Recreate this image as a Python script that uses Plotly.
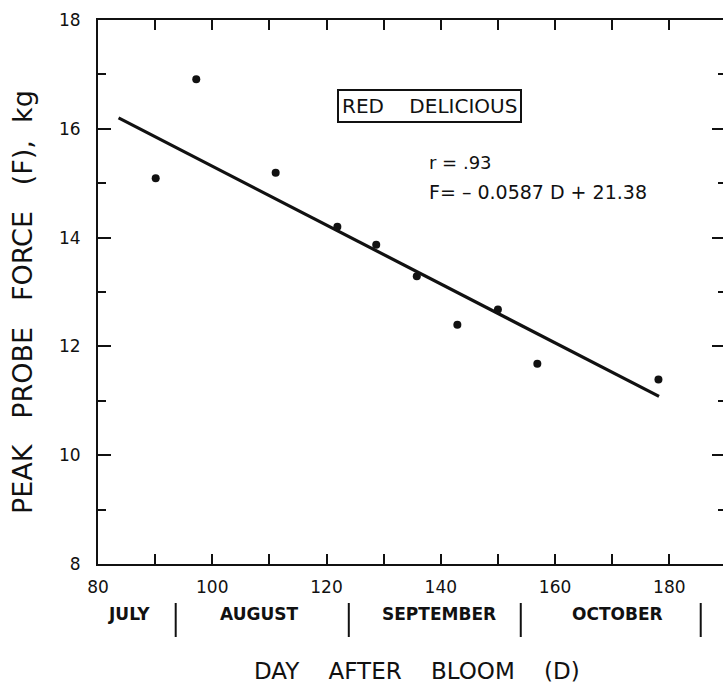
import plotly.graph_objects as go

# ---- data ----
day_after_bloom = [90.1, 97.2, 111.1, 121.9, 128.7, 135.8, 142.9, 150.0, 156.9, 178.1]
peak_force = [15.09, 16.91, 15.19, 14.20, 13.87, 13.29, 12.40, 12.68, 11.68, 11.39]

fit_days = [83.6, 178.2]
fit_force = [16.20, 11.08]

x_ticks = [80, 100, 120, 140, 160, 180]
y_ticks = [8, 10, 12, 14, 16, 18]

month_names = ["JULY", "AUGUST", "SEPTEMBER", "OCTOBER"]
month_centers = [85.4, 108.2, 139.7, 171.0]
month_bounds = [93.6, 123.9, 154.0, 185.5]

NB = "\u00a0"
cultivar = "RED" + NB * 4 + "DELICIOUS"
r_text = "r = .93"
eq_text = "F= \u2013 0.0587 D + 21.38"
x_title = "DAY" + NB * 4 + "AFTER" + NB * 4 + "BLOOM" + NB * 4 + "(D)"
y_title = "PEAK" + NB * 3 + "PROBE" + NB * 3 + "FORCE" + NB * 3 + "(F)," + NB * 2 + "kg"

# ---- layout geometry (pixels) ----
W, H = 723, 684
ML, MR, MT, MB = 98, 0, 20, 120
PW, PH = W - ML - MR, H - MT - MB

def px(x):
    return (x - ML) / PW

def py(y):
    return (H - MB - y) / PH

FONT = "DejaVu Sans"
INK = "#111111"

fig = go.Figure()

fig.add_trace(go.Scatter(
    x=fit_days, y=fit_force, mode="lines",
    line=dict(color=INK, width=3.2), showlegend=False, hoverinfo="skip"))

fig.add_trace(go.Scatter(
    x=day_after_bloom, y=peak_force, mode="markers",
    marker=dict(color=INK, size=8), showlegend=False))

# invisible trace so the right-hand tick axis renders
fig.add_trace(go.Scatter(
    x=[x_ticks[0]], y=[y_ticks[0]], yaxis="y2", mode="markers",
    marker=dict(opacity=0), showlegend=False, hoverinfo="skip"))

axis_font = dict(family=FONT, size=17, color=INK)

fig.update_layout(
    width=W, height=H,
    margin=dict(l=ML, r=MR, t=MT, b=MB, pad=0),
    paper_bgcolor="white", plot_bgcolor="white",
    xaxis=dict(
        range=[80, 80 + (PW) / 5.713], tickvals=x_ticks,
        ticks="inside", ticklen=10, tickwidth=2, tickcolor=INK,
        minor=dict(dtick=10, tick0=80, ticks="inside", ticklen=7, tickwidth=2, tickcolor=INK),
        showline=True, linewidth=2, linecolor=INK, mirror="allticks",
        showgrid=False, zeroline=False, tickfont=axis_font, ticklabelstandoff=7),
    yaxis=dict(
        range=[8, 18], tickvals=y_ticks,
        ticks="inside", ticklen=13, tickwidth=2, tickcolor=INK,
        minor=dict(dtick=1, tick0=8, ticks="inside", ticklen=8, tickwidth=2, tickcolor=INK),
        showline=True, linewidth=2, linecolor=INK, mirror=False,
        showgrid=False, zeroline=False, tickfont=axis_font, ticklabelstandoff=12),
    yaxis2=dict(
        range=[8, 18], tickvals=y_ticks, overlaying="y", side="right",
        ticks="inside", ticklen=11, tickwidth=2, tickcolor=INK,
        minor=dict(dtick=1, tick0=8, ticks="inside", ticklen=5, tickwidth=2, tickcolor=INK),
        showline=False, showticklabels=False, showgrid=False, zeroline=False),
)

annotations = []
# month labels and separators
for name, c in zip(month_names, month_centers):
    annotations.append(dict(
        x=c, y=py(614), xref="x", yref="paper", text="<b>%s</b>" % name,
        showarrow=False, font=dict(family=FONT, size=17, color=INK),
        xanchor="center", yanchor="middle"))
shapes = []
for b in month_bounds:
    shapes.append(dict(type="line", xref="x", yref="paper",
                       x0=b, x1=b, y0=py(603), y1=py(637),
                       line=dict(color=INK, width=2)))

# axis titles
annotations.append(dict(
    x=px(417), y=py(671), xref="paper", yref="paper", text=x_title,
    showarrow=False, font=dict(family=FONT, size=23, color=INK),
    xanchor="center", yanchor="middle"))
annotations.append(dict(
    x=px(23), y=py(302), xref="paper", yref="paper", text=y_title,
    textangle=-90, showarrow=False, font=dict(family=FONT, size=27, color=INK),
    xanchor="center", yanchor="middle"))

# boxed cultivar label
annotations.append(dict(
    x=px(429), y=py(106), xref="paper", yref="paper", text=cultivar,
    showarrow=False, font=dict(family=FONT, size=20, color=INK),
    xanchor="center", yanchor="middle",
    bordercolor=INK, borderwidth=2, borderpad=3, bgcolor="white"))

# statistics text
annotations.append(dict(
    x=px(427), y=py(163), xref="paper", yref="paper", text=r_text,
    showarrow=False, font=dict(family=FONT, size=18, color=INK),
    xanchor="left", yanchor="middle"))
annotations.append(dict(
    x=px(427), y=py(192), xref="paper", yref="paper", text=eq_text,
    showarrow=False, font=dict(family=FONT, size=19, color=INK),
    xanchor="left", yanchor="middle"))

fig.update_layout(annotations=annotations, shapes=shapes)

fig.write_html("out.html")
